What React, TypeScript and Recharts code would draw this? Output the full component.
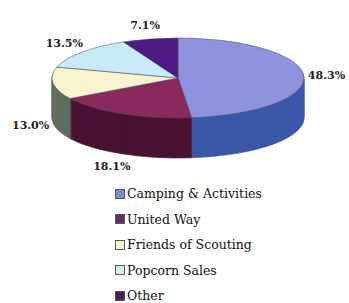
import { Cell, Pie, PieChart } from "recharts";

const CATEGORIES = [
  "Camping & Activities",
  "United Way",
  "Friends of Scouting",
  "Popcorn Sales",
  "Other",
];
const SHARES = [48.3, 18.1, 13.0, 13.5, 7.1];

const TOP_COLORS = ["#8f92dc", "#8a2a5c", "#f7f3cf", "#c8e9f6", "#4c1c84"];
const SIDE_COLORS = ["#3b58a8", "#4a1232", "#5f6f60", "#7aa0b0", "#2c0e50"];
const LEGEND_COLORS = ["#7390c6", "#6a2a5e", "#f6f2dc", "#d6edf6", "#4a1c5e"];

const FONT = "DejaVu Serif";

const data = CATEGORIES.map((name, i) => ({ name, value: SHARES[i] }));

// pseudo-3d: circle squashed with scaleY, side built from stacked pies
const R = 126;
const SQUASH = 40 / R;
const DEPTH = 40; // screen px
const CX = 178;
const CY = 78 / SQUASH;
const CHART_H = 600;
const LAYERS = Array.from({ length: DEPTH }, (_, k) => DEPTH - k);

const RAD = Math.PI / 180;

function renderLabel(props: any) {
  const { cx, cy, midAngle, outerRadius, value } = props;
  const c = Math.cos(midAngle * RAD);
  const s = Math.sin(midAngle * RAD);
  const x = cx + outerRadius * 1.18 * c;
  const y = cy - outerRadius * 1.35 * s + (s < 0 ? DEPTH / SQUASH : 0);
  return (
    <text
      transform={`translate(${x},${y}) scale(1,${1 / SQUASH})`}
      textAnchor="middle"
      dominantBaseline="central"
      fontFamily={FONT}
      fontWeight="bold"
      fontSize={11}
      fill="#222"
    >
      {`${value.toFixed(1)}%`}
    </text>
  );
}

export default function App() {
  return (
    <div
      style={{
        position: "absolute",
        left: 0,
        top: 0,
        width: 349,
        height: 303,
        background: "#fff",
        overflow: "hidden",
      }}
    >
      <div
        style={{
          position: "absolute",
          left: 0,
          top: 0,
          transform: `scaleY(${SQUASH})`,
          transformOrigin: "0 0",
        }}
      >
        <PieChart width={349} height={CHART_H} margin={{ top: 0, right: 0, bottom: 0, left: 0 }}>
          {LAYERS.map((d) => (
            <Pie
              key={`side-${d}`}
              data={data}
              dataKey="value"
              nameKey="name"
              cx={CX}
              cy={CY + d / SQUASH}
              outerRadius={R}
              startAngle={90}
              endAngle={-270}
              isAnimationActive={false}
              labelLine={false}
            >
              {data.map((_, i) => (
                <Cell key={i} fill={SIDE_COLORS[i]} stroke={SIDE_COLORS[i]} strokeWidth={1} />
              ))}
            </Pie>
          ))}
          <Pie
            data={data}
            dataKey="value"
            nameKey="name"
            cx={CX}
            cy={CY}
            outerRadius={R}
            startAngle={90}
            endAngle={-270}
            isAnimationActive={false}
            labelLine={false}
            label={renderLabel}
          >
            {data.map((_, i) => (
              <Cell key={i} fill={TOP_COLORS[i]} stroke="#4a4a60" strokeWidth={0.8} />
            ))}
          </Pie>
        </PieChart>
      </div>
      <div
        style={{
          position: "absolute",
          left: 115,
          top: 181,
          fontFamily: FONT,
          fontSize: 12.5,
          color: "#111",
        }}
      >
        {CATEGORIES.map((name, i) => (
          <div key={name} style={{ display: "flex", alignItems: "center", height: 25.5 }}>
            <span
              style={{
                width: 8,
                height: 8,
                background: LEGEND_COLORS[i],
                border: "1px solid #555",
                marginRight: 2,
              }}
            />
            {name}
          </div>
        ))}
      </div>
    </div>
  );
}
